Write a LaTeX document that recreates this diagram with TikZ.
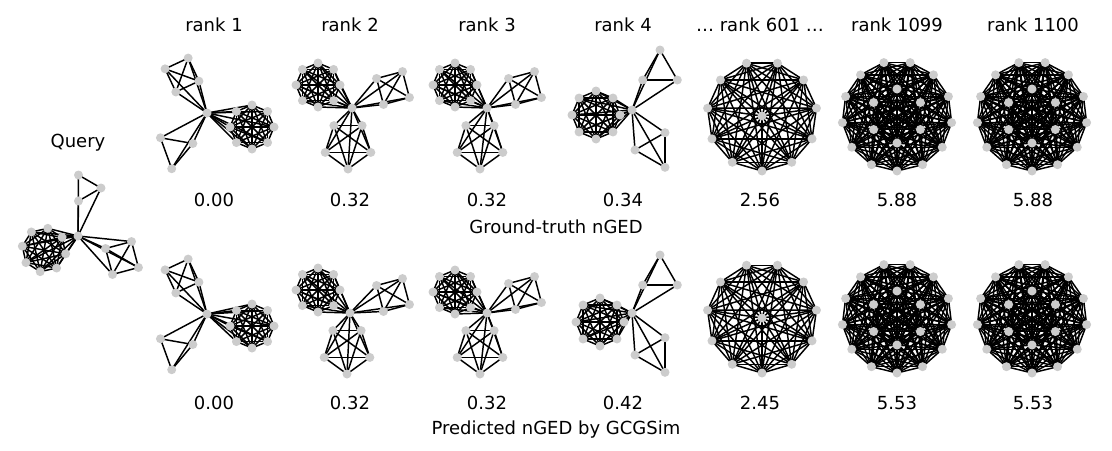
\documentclass[tikz,border=0pt]{standalone}
\usepackage{fontspec}
\setmainfont{DejaVu Sans}
\usetikzlibrary{calc}
\tikzset{e/.style={line width=1.1pt,black},dot/.style={fill=black!20,draw=none},
lab/.style={font=\fontsize{13.5}{16}\selectfont,inner sep=0pt}}
% hub x,y ; cluster center x,y ; radius ; n ; rotation
\newcommand\clu[7]{%
 \foreach \i in {1,...,#6}{\coordinate (q\i) at ($(#3,#4)+({#7+360*\i/#6}:#5)$);}
 \foreach \i in {1,...,#6}{\draw[e] (#1,#2) -- (q\i);
   \foreach \j in {1,...,#6}{\ifnum\i<\j \draw[e] (q\i) -- (q\j);\fi}}
 \foreach \i in {1,...,#6}{\fill[dot] (q\i) circle (4.5);}}
\newcommand\hub[2]{\fill[dot] (#1,#2) circle (4.5);}
% complete graph: cx cy nouter ninner innerradius
\newcommand\kg[5]{%
 \pgfmathtruncatemacro\tot{#3+#4}
 \foreach \i in {1,...,#3}{\coordinate (p\i) at ($(#1,#2)+({90+360*\i/#3}:55)$);}
 \foreach \i in {1,...,#4}{\pgfmathtruncatemacro\k{#3+\i}\coordinate (p\k) at ($(#1,#2)+({30+360*\i/#4}:#5)$);}
 \foreach \i in {1,...,\tot}{\foreach \j in {1,...,\tot}{\ifnum\i<\j \draw[e] (p\i) -- (p\j);\fi}}
 \foreach \i in {1,...,\tot}{\fill[dot] (p\i) circle (4.5);}}
\begin{document}
\begin{tikzpicture}[x=0.75pt,y=-0.75pt]
\useasboundingbox (0,0) rectangle (1112,450);
% labels
\node[lab] (tq) at (78,143) {Query};
\foreach \x/\t [count=\c] in {214/rank 1,350/rank 2,487/rank 3,623/rank 4,760/… rank 601 …,897/rank 1099,1033/rank 1100}{\node[lab] (r\c) at (\x,25) {\t};}
\foreach \x/\t [count=\c] in {214/0.00,350/0.32,487/0.32,623/0.34,760/2.56,897/5.88,1033/5.88}{\node[lab] (g\c) at (\x,200) {\t};}
\foreach \x/\t [count=\c] in {214/0.00,350/0.32,487/0.32,623/0.42,760/2.45,897/5.53,1033/5.53}{\node[lab] (b\c) at (\x,403) {\t};}
\node[lab] (gt) at (556,227) {Ground-truth nGED};
\node[lab] (pt) at (556,430) {Predicted nGED by GCGSim};
% query
\clu{78}{236}{44}{250}{22}{8}{10}\clu{78}{236}{86}{188}{15}{3}{0}\clu{78}{236}{122}{258}{19}{4}{30}\hub{78}{236}
% rank1
\clu{207}{113}{182}{75}{18}{4}{20}\clu{207}{113}{252}{127}{22}{8}{0}\clu{207}{113}{175}{150}{19}{3}{100}\hub{207}{113}
\clu{207}{314}{182}{276}{18}{4}{20}\clu{207}{314}{252}{326}{22}{8}{0}\clu{207}{314}{175}{351}{19}{3}{100}\hub{207}{314}
% rank2
\clu{352}{108}{318}{85}{22}{8}{0}\clu{352}{108}{393}{88}{19}{4}{30}\clu{352}{108}{348}{145}{24}{5}{90}\hub{352}{108}
\clu{350}{313}{318}{290}{22}{8}{0}\clu{350}{313}{393}{295}{19}{4}{30}\clu{350}{313}{347}{350}{24}{5}{90}\hub{350}{313}
% rank3
\clu{487}{108}{455}{85}{22}{8}{0}\clu{487}{108}{525}{88}{19}{4}{30}\clu{487}{108}{480}{145}{24}{5}{90}\hub{487}{108}
\clu{487}{313}{455}{292}{22}{8}{0}\clu{487}{313}{525}{293}{19}{4}{30}\clu{487}{313}{480}{350}{24}{5}{90}\hub{487}{313}
% rank4
\clu{632}{110}{596}{115}{24}{8}{0}\clu{632}{110}{660}{70}{20}{3}{30}\clu{632}{110}{655}{150}{20}{3}{60}\hub{632}{110}
\clu{632}{313}{600}{322}{24}{8}{0}\clu{632}{313}{660}{275}{20}{3}{30}\clu{632}{313}{655}{355}{20}{3}{60}\hub{632}{313}
% complete graphs
\kg{762}{116}{11}{1}{0}\kg{762}{318}{11}{1}{0}
\kg{897}{116}{13}{6}{27}\kg{897}{318}{13}{6}{27}
\kg{1032}{116}{13}{6}{27}\kg{1032}{318}{13}{6}{27}
\end{tikzpicture}
\end{document}
